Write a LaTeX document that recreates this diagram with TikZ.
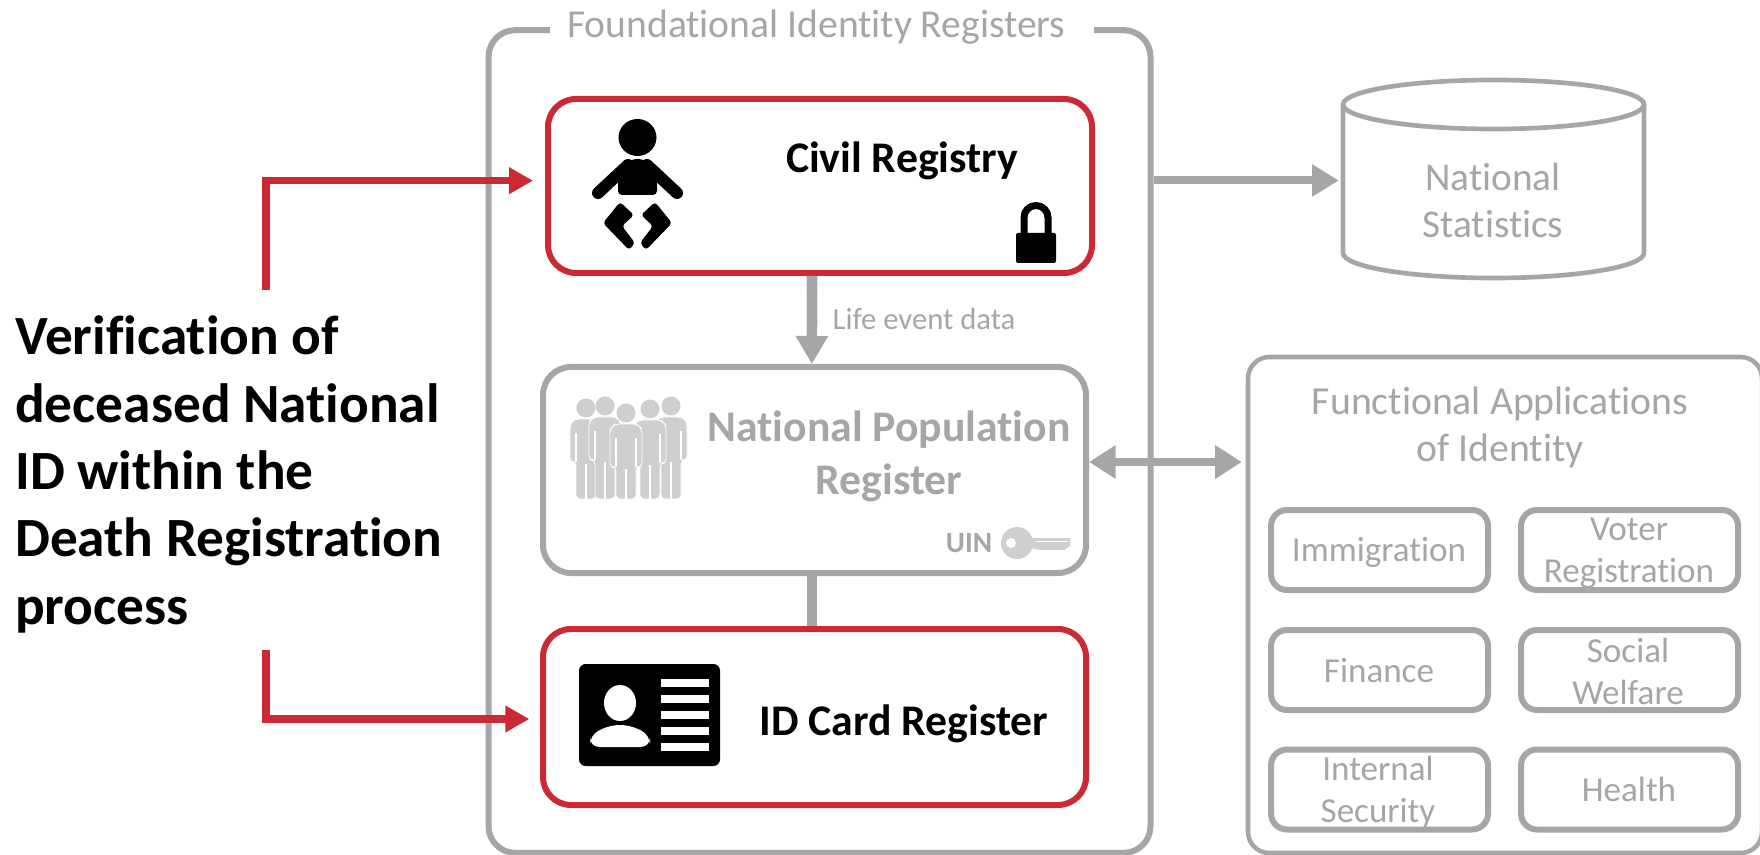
\documentclass[tikz,border=0pt]{standalone}
\usepackage{fontspec}
\setmainfont{Carlito}[Ligatures=NoCommon]
\usetikzlibrary{arrows.meta,calc}
\definecolor{rd}{HTML}{CB2A35}
\definecolor{gy}{HTML}{A6A6A6}
\definecolor{lgy}{HTML}{CFCFCF}
\newcommand{\fs}[2]{\fontsize{#1}{#2}\selectfont}
\newcommand{\person}[3]{% cx, shoulder y, bottom y
  \fill[lgy] (#1,#2-13) circle[radius=9.5];
  \filldraw[fill=lgy,draw=white,line width=0.6pt,rounded corners=3pt]
    (#1-16,#2+3) -- (#1-11,#2-2) -- (#1+11,#2-2) -- (#1+16,#2+3) -- (#1+16,#2+41) -- (#1+10,#2+41)
    -- (#1+10,#3) -- (#1-10,#3) -- (#1-10,#2+41) -- (#1-16,#2+41) -- cycle;
  \draw[white,line width=1pt] (#1,#2+43) -- (#1,#3) (#1-10,#2+12)--(#1-10,#2+41) (#1+10,#2+12)--(#1+10,#2+41);
}
\tikzset{
  x=0.75pt,y=-0.75pt,
  box/.style={draw=#1,line width=4.5pt,fill=white,rounded corners=21pt,inner sep=0pt},
  app/.style={draw=gy,line width=4.5pt,rounded corners=12pt,inner sep=0pt,minimum width=162.75pt,minimum height=60pt},
  frame/.style={draw=gy,line width=4.5pt,rounded corners=20pt,inner sep=0pt},
  apptext/.style={text=gy,align=center,font=\fs{26.3}{31.5}},
  heavy/.style={draw=gy,line width=8pt},
  redline/.style={draw=rd,line width=5.6pt},
}
\begin{document}
\begin{tikzpicture}
\useasboundingbox (0,0) rectangle (1760,855);
\fill[white] (0,0) rectangle (1760,855);

% outer frames
\node[frame,minimum width=496.5pt,minimum height=617pt] (outer) at (819.5,441.5) {};
\node[fill=white,text=gy,font=\fs{29.7}{34},inner xsep=13pt,inner ysep=0pt] (title) at (822,27) {Foundational Identity Registers\hspace*{8.5pt}};
\node[frame,minimum width=385.5pt,minimum height=372pt,line width=3.4pt,rounded corners=16pt] (func) at (1505,605) {};

% registers
\node[box=rd,minimum width=408pt,minimum height=130.5pt] (civil) at (820,186) {};
\node[box=gy,minimum width=407.25pt,minimum height=154.5pt] (npr) at (814.5,470) {};
\node[box=rd,minimum width=407.25pt,minimum height=132pt] (card) at (814.5,717) {};

% labels
\node[font=\bfseries\fs{32.8}{38}] (civiltxt) at (902,161) {Civil Registry};
\node[font=\bfseries\fs{32.8}{39.5},text=gy,align=center] (nprtxt) at (889,456.5) {National Population\\Register};
\node[font=\bfseries\fs{22}{26},text=gy] (uin) at (969,543) {UIN};
\node[font=\bfseries\fs{32.8}{38}] (cardtxt) at (904,724) {ID Card Register};
\node[font=\fs{23}{28},text=gy] (life) at (924,319) {Life event data};

% statistics cylinder
\node[minimum width=225.75pt,minimum height=149pt,inner sep=0pt] (stats) at (1493.5,178.5) {};
\draw[gy,line width=3.5pt] (1493.5,104.5) ellipse[x radius=150.5,y radius=24.5];
\draw[gy,line width=3.5pt] (1343,104.5) -- (1343,253) arc[start angle=180,end angle=0,x radius=150.5,y radius=25] -- (1644,104.5);
\node[text=gy,align=center,font=\fs{29.5}{35}] (statstxt) at (1493,200.5) {National\\Statistics};

% functional
\node[text=gy,align=center,font=\fs{29.8}{35.25}] (functxt) at (1500,427) {Functional Applications\\of Identity};
\node[app] (a1) at (1379.5,550) {};
\node[app] (a2) at (1629.5,550) {};
\node[app] (a3) at (1379.5,670) {};
\node[app] (a4) at (1629.5,670) {};
\node[app] (a5) at (1379.5,789.5) {};
\node[app] (a6) at (1629.5,789.5) {};
\node[apptext] at (1379,552.5) {Immigration};
\node[apptext] at (1629,553) {Voter\\Registration};
\node[apptext] at (1379,671) {Finance};
\node[apptext] at (1628,671) {Social\\Welfare};
\node[apptext] at (1378,792) {Internal\\Security};
\node[apptext] at (1629,789.5) {Health};

% connectors
\draw[heavy,-{Triangle[length=21pt,width=23pt]}] ([xshift=-6pt]civil.south) -- ([xshift=-2pt]npr.north);
\draw[heavy] ([xshift=-2pt]npr.south) -- ([xshift=-2pt]card.north);
\draw[heavy,line width=6pt,-{Triangle[length=20pt,width=23pt]},shorten >=3pt] ([yshift=-1.5pt]outer.east |- stats.west) -- ([yshift=-1.5pt]stats.west);
\draw[heavy,line width=5.5pt,{Triangle[length=20pt,width=24pt]}-{Triangle[length=20pt,width=24pt]},shorten >=3pt]
  ([yshift=6pt]npr.east) -- ([yshift=6pt]npr.east -| func.west);

% left text and red arrows
\node[font=\bfseries\fs{41.5}{50.6},align=left,anchor=north west,inner sep=0pt] (verif) at (15,315.5) {Verification of\\deceased National\\ID within the\\Death Registration\\process};
\coordinate (rt) at (266,290);
\coordinate (rb) at (266,650);
\draw[redline,-{Triangle[length=18pt,width=19pt]},shorten >=9pt] (rt) |- ([yshift=4pt]civil.west);
\draw[redline,-{Triangle[length=18pt,width=19pt]},shorten >=8pt] (rb) |- ([yshift=-1.5pt]card.west);

% baby
\fill (637.5,137.5) ellipse[x radius=19,y radius=18.5];
\fill[rounded corners=3pt] (618,195) -- (618,172) -- (632,159) -- (643,159) -- (657,172) -- (657,195) -- cycle;
\draw[line width=9pt,line cap=round] (628,165) -- (598,193) (647,165) -- (677,193);
\fill[rounded corners=2.5pt] (620,202) -- (634,215) -- (622,226) -- (635,243) -- (629,250) -- (603,223) -- cycle;
\fill[rounded corners=2.5pt] (655,202) -- (641,215) -- (653,226) -- (640,243) -- (646,250) -- (672,223) -- cycle;

% lock
\draw[line width=5.25pt] (1024,235) -- (1024,217.5) arc[start angle=180,end angle=360,radius=12] -- (1048,235);
\fill[rounded corners=1.5pt] (1016,233) rectangle (1056,263);

% people
\person{586}{421}{499}
\person{671}{419}{499}
\person{605}{419}{499}
\person{650}{422}{499}
\person{626}{426}{499}

% key
\fill[lgy] (1017,543) circle[radius=16];
\fill[lgy] (1030,538) -- (1070,538) -- (1070,546) -- (1064,550) -- (1040,550) -- (1030,548) -- cycle;
\fill[white] (1011,543) circle[radius=5];
\draw[white,line width=0.8pt] (1036,541.5) -- (1068,541.5);

% ID card
\fill[rounded corners=5pt] (579,664) rectangle (720,766);
\fill[white] (620,703) ellipse[x radius=16,y radius=18];
\fill[white,rounded corners=7pt] (590,747) -- (590,735) -- (610,725) -- (630,725) -- (650,735) -- (650,747) -- cycle;
\foreach \yy in {679,695,711,727,743} \fill[white] (661,\yy) rectangle (709,\yy+8);
\end{tikzpicture}
\end{document}
